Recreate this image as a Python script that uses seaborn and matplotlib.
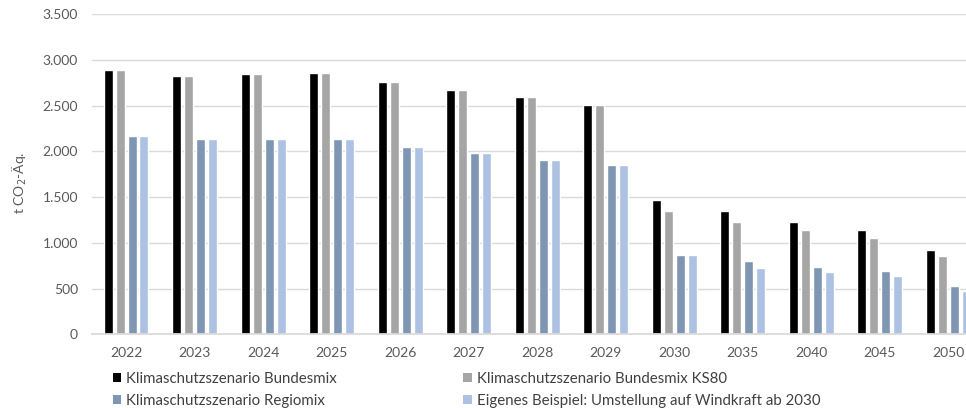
import matplotlib
matplotlib.use("Agg")
import matplotlib.pyplot as plt
import seaborn as sns
import pandas as pd
from matplotlib.patches import Patch
from matplotlib.ticker import FuncFormatter

years = ["2022", "2023", "2024", "2025", "2026", "2027", "2028", "2029",
         "2030", "2035", "2040", "2045", "2050"]
series_names = [
    "Klimaschutzszenario Bundesmix",
    "Klimaschutzszenario Bundesmix KS80",
    "Klimaschutzszenario Regiomix",
    "Eigenes Beispiel: Umstellung auf Windkraft ab 2030",
]
bundesmix = [2890, 2830, 2845, 2860, 2755, 2675, 2590, 2505, 1470, 1345, 1232, 1135, 922]
bundesmix_ks80 = [2890, 2830, 2845, 2860, 2755, 2675, 2590, 2505, 1345, 1232, 1135, 1050, 852]
regiomix = [2170, 2138, 2138, 2135, 2052, 1985, 1910, 1852, 868, 798, 740, 695, 525]
eigenes = [2170, 2138, 2138, 2135, 2052, 1985, 1910, 1852, 868, 722, 680, 642, 470]
colors = ["#000000", "#a5a5a5", "#7f96b2", "#adc2e2"]

rows = []
for name, vals in zip(series_names, [bundesmix, bundesmix_ks80, regiomix, eigenes]):
    for y, v in zip(years, vals):
        rows.append({"Jahr": y, "Serie": name, "Wert": v})
df = pd.DataFrame(rows)

sns.set_theme(style="white")
plt.rcParams["font.family"] = ["Lato", "DejaVu Sans"]

W, H = 966, 408
fig = plt.figure(figsize=(W / 100, H / 100), dpi=100)
left_px, right_px = 91.75, 982.5
top_px, bot_px = 14.3, 334.2
ax = fig.add_axes([left_px / W, 1 - bot_px / H, (right_px - left_px) / W, (bot_px - top_px) / H])

sns.barplot(data=df, x="Jahr", y="Wert", hue="Serie", order=years, hue_order=series_names,
            palette=colors, width=0.7, gap=0.25, ax=ax, legend=False, saturation=1)

ax.set_ylim(0, 3500)
ax.set_yticks(range(0, 3501, 500))
ax.yaxis.set_major_formatter(FuncFormatter(lambda v, p: f"{int(v):,}".replace(",", ".")))
ax.grid(axis="y", color="#d9d9d9", linewidth=1)
ax.set_axisbelow(True)
for s in ["left", "right", "top"]:
    ax.spines[s].set_visible(False)
ax.spines["bottom"].set_color("#d9d9d9")
ax.tick_params(axis="both", length=0, colors="#595959", labelsize=10)
ax.tick_params(axis="x", pad=9)
ax.tick_params(axis="y", pad=10)
ax.set_xlabel("")
ax.set_ylabel("")
fig.text(20 / W, 1 - 183 / H, "t CO$_2$-Äq.", rotation=90, ha="center", va="center",
         fontsize=10, color="#595959")

handles = [Patch(facecolor=c, edgecolor="none") for c in colors]
order = [0, 2, 1, 3]
leg = fig.legend([handles[i] for i in order], [series_names[i] for i in order], ncol=2,
                 loc="upper left", bbox_to_anchor=(113 / W, 1 - 372 / H), frameon=False,
                 fontsize=10.8, handlelength=0.55, handleheight=0.55, handletextpad=0.35,
                 columnspacing=8.4, labelspacing=0.5, borderpad=0, borderaxespad=0)
for t in leg.get_texts():
    t.set_color("#404040")

fig.savefig("out.png", dpi=100)
